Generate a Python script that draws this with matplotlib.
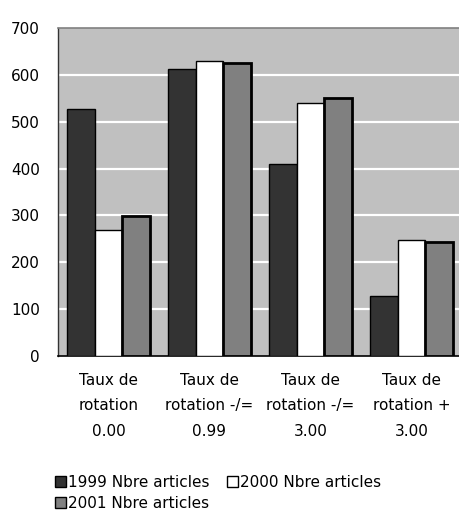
import matplotlib
matplotlib.use("Agg")
import matplotlib.pyplot as plt
import numpy as np
from matplotlib.patches import Patch

categories = [
    "Taux de\nrotation\n0.00",
    "Taux de\nrotation -/=\n0.99",
    "Taux de\nrotation -/=\n3.00",
    "Taux de\nrotation +\n3.00",
]
series_names = ["1999 Nbre articles", "2000 Nbre articles", "2001 Nbre articles"]
values_1999 = [528, 613, 409, 128]
values_2000 = [268, 630, 540, 247]
values_2001 = [298, 625, 550, 243]
y_ticks = [0, 100, 200, 300, 400, 500, 600, 700]

plt.rcParams["font.family"] = ["DejaVu Sans"]

fig = plt.figure(figsize=(4.60, 5.19), dpi=100)
ax = fig.add_axes([58 / 460, 163 / 519, 404 / 460, 328 / 519])
ax.set_facecolor("#c0c0c0")

x = np.arange(len(categories))
w = 0.274
styles = [
    dict(facecolor="#333333", edgecolor="black", linewidth=1.0),
    dict(facecolor="white", edgecolor="black", linewidth=1.0),
    dict(facecolor="#808080", edgecolor="black", linewidth=2.0),
]
all_vals = [values_1999, values_2000, values_2001]
handles = []
for i, (vals, st) in enumerate(zip(all_vals, styles)):
    ax.bar(x + (i - 1) * w, vals, width=w, zorder=3, **st)
    handles.append(Patch(label=series_names[i], **{**st, "linewidth": 1.0}))

ax.set_xlim(-0.5, 3.5)
ax.set_ylim(0, 700)
ax.set_yticks(y_ticks)
ax.set_yticklabels([str(v) for v in y_ticks], fontsize=11)
ax.set_xticks(x)
ax.set_xticklabels(categories, fontsize=11, linespacing=1.9)
ax.tick_params(axis="both", length=0)
ax.tick_params(axis="y", pad=13)
ax.tick_params(axis="x", pad=12)

for v in y_ticks[1:-1]:
    ax.axhline(v, color="white", linewidth=1.6, zorder=1)

ax.spines["top"].set_color("#808080")
ax.spines["top"].set_linewidth(1.2)
ax.spines["left"].set_color("#333333")
ax.spines["left"].set_linewidth(1.0)
ax.spines["bottom"].set_color("black")
ax.spines["bottom"].set_linewidth(1.2)
ax.spines["right"].set_visible(False)

# column-major fill: first column holds 1999 and 2001, second holds 2000
order = [handles[0], handles[2], handles[1]]
fig.legend(handles=order, labels=[h.get_label() for h in order],
           loc="upper left", bbox_to_anchor=(44 / 460, 1 - 464 / 519),
           ncol=2, frameon=False, fontsize=11,
           handlelength=0.75, handleheight=0.7, handletextpad=0.15,
           columnspacing=1.1, labelspacing=0.4, borderpad=0.2)

fig.savefig("out.png", dpi=100)
